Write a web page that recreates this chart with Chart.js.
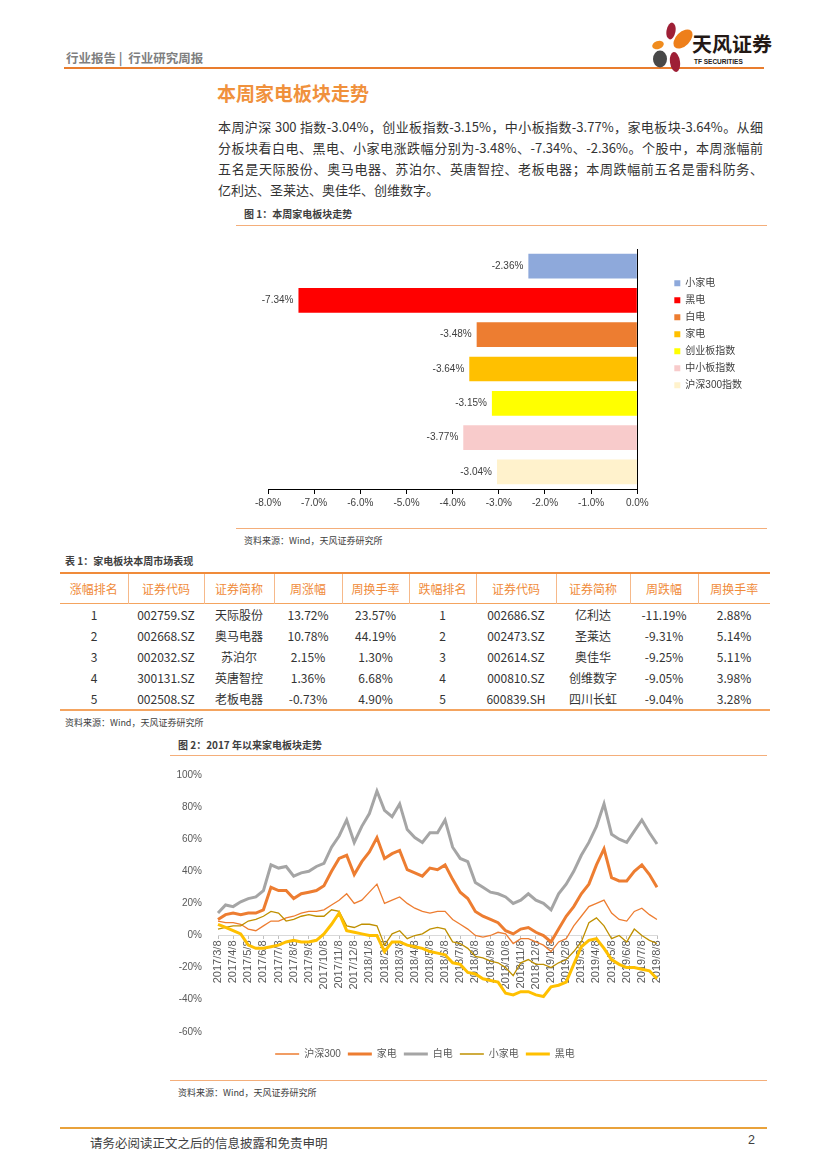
<!DOCTYPE html>
<html>
<head>
<meta charset="utf-8">
<script src="https://cdn.jsdelivr.net/npm/chart.js@4"></script>
<style>
  body { margin: 0; background: #fff; }
  #page { position: relative; width: 827px; height: 1169px; overflow: hidden;
    font-family: "Liberation Sans", "Noto Sans CJK SC", sans-serif; color: #333; }
  .abs { position: absolute; white-space: nowrap; }
  .hline { position: absolute; height: 0; }
  .cjk { font-family: "Noto Sans CJK SC", sans-serif; }
  .para div { width: 545px; text-align: justify; text-align-last: justify; height: 21px; line-height: 21px; }
  .para div.last { text-align-last: left; }
  table { border-collapse: collapse; table-layout: fixed; }
  th { color: #F08B3A; font-weight: normal; font-size: 12px; height: 27px; border-left: 1px solid #F6B98A; }
  th:first-child { border-left: none; }
  td { text-align: center; font-size: 12px; height: 21px; padding: 0; color: #333; }
</style>
</head>
<body>
<div id="page">
  <!-- header -->
  <div class="abs cjk" style="left:66px; top:48px; font-size:12.5px; font-weight:bold; color:#7f7f7f;">行业报告&nbsp;|&nbsp;&nbsp;行业研究周报</div>
  <div class="hline" style="left:64px; top:67px; width:700px; border-top:2px solid #E97D2E;"></div>
  <svg class="abs" style="left:649px; top:22px;" width="44" height="50" viewBox="0 0 44 50">
    <ellipse cx="22" cy="9" rx="4.5" ry="8.5" fill="#9E1F36" transform="rotate(10 22 9)"/>
    <ellipse cx="34" cy="17" rx="7" ry="11.5" fill="#EE7F1A" transform="rotate(45 34 17)"/>
    <ellipse cx="9" cy="23" rx="6" ry="4" fill="#F08C1E" transform="rotate(-20 9 23)"/>
    <ellipse cx="11" cy="37" rx="7" ry="8.5" fill="#484848"/>
    <ellipse cx="26" cy="40" rx="5" ry="10" fill="#9E1F36" transform="rotate(-8 26 40)"/>
  </svg>
  <div class="abs cjk" style="left:692px; top:34px; font-size:20px; line-height:20px; font-weight:bold; color:#231815;">天风证券</div>
  <div class="abs" style="left:694px; top:58px; font-size:6.5px; line-height:7px; font-weight:bold; color:#231815;">TF SECURITIES</div>

  <!-- title + paragraph -->
  <div class="abs cjk" style="left:217px; top:79px; font-size:19px; font-weight:bold; color:#F0913C;">本周家电板块走势</div>
  <div class="abs para cjk" style="left:218px; top:116px; font-size:13px; color:#333;">
    <div>本周沪深 300 指数-3.04%，创业板指数-3.15%，中小板指数-3.77%，家电板块-3.64%。从细</div>
    <div>分板块看白电、黑电、小家电涨跌幅分别为-3.48%、-7.34%、-2.36%。个股中，本周涨幅前</div>
    <div>五名是天际股份、奥马电器、苏泊尔、英唐智控、老板电器；本周跌幅前五名是雷科防务、</div>
    <div class="last">亿利达、圣莱达、奥佳华、创维数字。</div>
  </div>

  <!-- figure 1 -->
  <div class="abs cjk" style="left:244px; top:206px; font-size:10px; font-weight:bold; color:#404040;">图 1：本周家电板块走势</div>
  <div class="hline" style="left:236px; top:225px; width:531px; border-top:1.5px solid #F4AE7A;"></div>
  <div class="abs" style="left:236px; top:232px; width:540px; height:290px;"><canvas id="barChart"></canvas></div>
  <div class="hline" style="left:236px; top:528px; width:531px; border-top:1.5px solid #F4AE7A;"></div>
  <div class="abs cjk" style="left:244px; top:534px; font-size:9px; color:#404040;">资料来源：Wind，天风证券研究所</div>

  <!-- table 1 -->
  <div class="abs cjk" style="left:65px; top:553px; font-size:10px; font-weight:bold; color:#404040;">表 1：家电板块本周市场表现</div>
  <div class="abs cjk" style="left:60px; top:572px;">
    <table id="tbl" style="width:710px; border-top:2px solid #F08B3A; border-bottom:2px solid #F4A460;">
      <colgroup id="cols"></colgroup>
      <thead><tr id="thead" style="border-bottom:1.5px solid #F4A460;"></tr></thead>
      <tbody id="tbody"></tbody>
    </table>
  </div>
  <div class="abs cjk" style="left:65px; top:716px; font-size:9px; color:#404040;">资料来源：Wind，天风证券研究所</div>

  <!-- figure 2 -->
  <div class="abs cjk" style="left:178px; top:737px; font-size:10px; font-weight:bold; color:#404040;">图 2：2017 年以来家电板块走势</div>
  <div class="hline" style="left:170px; top:755px; width:597px; border-top:1.5px solid #F4AE7A;"></div>
  <div class="abs" style="left:170px; top:760px; width:600px; height:315px;"><canvas id="lineChart"></canvas></div>
  <div class="hline" style="left:170px; top:1080px; width:597px; border-top:1.5px solid #F4AE7A;"></div>
  <div class="abs cjk" style="left:178px; top:1086px; font-size:9px; color:#404040;">资料来源：Wind，天风证券研究所</div>

  <!-- footer -->
  <div class="hline" style="left:60px; top:1127px; width:707px; border-top:2px solid #E9A23B;"></div>
  <div class="abs cjk" style="left:90px; top:1133px; font-size:12.5px; color:#404040;">请务必阅读正文之后的信息披露和免责申明</div>
  <div class="abs" style="left:748px; top:1133px; font-size:12.5px; color:#404040;">2</div>
</div>

<script>
// ---- figure 1 data ----
const barCategories = ['小家电', '黑电', '白电', '家电', '创业板指数', '中小板指数', '沪深300指数'];
const barValues = [-2.36, -7.34, -3.48, -3.64, -3.15, -3.77, -3.04];
const barColors = ['#8EA9DB', '#FF0000', '#ED7D31', '#FFC000', '#FFFF00', '#F8CBCB', '#FFF2CC'];

// ---- table 1 data ----
const tableHeader = ['涨幅排名', '证券代码', '证券简称', '周涨幅', '周换手率', '跌幅排名', '证券代码', '证券简称', '周跌幅', '周换手率'];
const gainers = [
    ['1', '002759.SZ', '天际股份', '13.72%', '23.57%'],
    ['2', '002668.SZ', '奥马电器', '10.78%', '44.19%'],
    ['3', '002032.SZ', '苏泊尔', '2.15%', '1.30%'],
    ['4', '300131.SZ', '英唐智控', '1.36%', '6.68%'],
    ['5', '002508.SZ', '老板电器', '-0.73%', '4.90%']
];
const losers = [
    ['1', '002686.SZ', '亿利达', '-11.19%', '2.88%'],
    ['2', '002473.SZ', '圣莱达', '-9.31%', '5.14%'],
    ['3', '002614.SZ', '奥佳华', '-9.25%', '5.11%'],
    ['4', '000810.SZ', '创维数字', '-9.05%', '3.98%'],
    ['5', '600839.SH', '四川长虹', '-9.04%', '3.28%']
];

// ---- figure 2 data (semi-monthly readings, %) ----
const hs300 = [9, 8, 8, 7, 4, 3, 6, 9, 9, 11, 12, 14, 15, 15, 16, 19, 22, 26, 20, 22,
    27, 32, 20, 22, 24, 20, 17, 15, 14, 15, 15, 10, 7, 4, 0, -1, 0, 2, 1, -5,
    -2, -2, -4, -6, -10, -4, -2, 6, 12, 18, 20, 22, 14, 10, 9, 15, 17, 13, 10];
const jiadian = [10, 13, 14, 13, 14, 14, 16, 30, 28, 28, 23, 26, 27, 28, 31, 40, 48, 50, 38, 46,
    52, 61, 48, 51, 53, 41, 39, 37, 42, 41, 44, 35, 27, 23, 15, 12, 10, 8, 3, 1,
    4, 5, 2, 0, -4, 4, 12, 18, 26, 32, 44, 54, 36, 34, 34, 40, 44, 38, 30];
const baidian = [14, 19, 18, 21, 23, 24, 28, 44, 42, 43, 37, 39, 40, 43, 45, 55, 62, 72, 58, 68,
    76, 90, 78, 74, 82, 66, 61, 58, 64, 64, 72, 55, 48, 46, 33, 30, 27, 26, 24, 20,
    22, 26, 22, 20, 16, 26, 32, 40, 50, 58, 68, 82, 63, 60, 58, 65, 72, 64, 57];
const xiaojiadian = [4, 5, 6, 6, 9, 10, 12, 15, 14, 9, 10, 12, 13, 12, 12, 16, 15, 6, 5, 7,
    7, 6, -6, 1, 3, -2, 0, 1, 4, 5, 4, -4, -5, -8, -13, -14, -16, -17, -20, -25,
    -17, -15, -18, -18, -20, -17, -15, -10, -4, 8, 11, 6, -2, 0, -4, 4, 0, -3, -5];
const heidian = [7, 5, 3, 1, -6, -8, -8, -7, -6, -4, -3, -4, -4, -3, 1, 7, 14, 3, 2, 1,
    0, 0, -10, -4, -4, -6, -7, -8, -10, -11, -12, -17, -18, -23, -24, -27, -28, -29, -36, -37,
    -35, -35, -37, -38, -32, -31, -29, -18, -7, -3, -2, -8, -15, -18, -20, -20, -21, -22, -27];

// date labels: the 8th of each month from 2017/3 to 2019/8, plus a mid-month point
const dateLabels = [];
for (let y = 2017, m = 3; y < 2019 || (y === 2019 && m <= 8); m++) {
    if (m > 12) { m = 1; y++; }
    dateLabels.push(`${y}/${m}/8`);
    if (!(y === 2019 && m === 8)) dateLabels.push(`${y}/${m}/23`);
}

// ---- build table ----
const colWidths = [68, 76, 70, 68, 67, 67, 80, 74, 68, 72];
document.getElementById('cols').innerHTML = colWidths.map(w => `<col style="width:${w}px">`).join('');
document.getElementById('thead').innerHTML = tableHeader.map(h => `<th>${h}</th>`).join('');
document.getElementById('tbody').innerHTML = gainers.map((g, i) =>
    '<tr>' + g.concat(losers[i]).map(c => `<td>${c}</td>`).join('') + '</tr>').join('');

Chart.defaults.font.family = '"Liberation Sans", "Noto Sans CJK SC", sans-serif';
Chart.defaults.color = '#404040';
Chart.defaults.animation = false;

// ---- figure 1 ----
const barLabels = {
    id: 'barLabels',
    afterDatasetsDraw(chart) {
        const ctx = chart.ctx;
        ctx.save();
        ctx.font = '10px "Liberation Sans", sans-serif';
        ctx.fillStyle = '#404040';
        ctx.textAlign = 'right';
        ctx.textBaseline = 'middle';
        chart.getDatasetMeta(0).data.forEach((bar, i) => {
            ctx.fillText(barValues[i].toFixed(2) + '%', bar.x - 5, bar.y);
        });
        ctx.restore();
    }
};

new Chart(document.getElementById('barChart'), {
    type: 'bar',
    data: {
        labels: barCategories,
        datasets: [{ data: barValues, backgroundColor: barColors, borderWidth: 0 }]
    },
    options: {
        indexAxis: 'y',
        responsive: true,
        maintainAspectRatio: false,
        layout: { padding: { left: 32, right: 24, top: 17, bottom: 8 } },
        scales: {
            x: {
                min: -8, max: 0,
                ticks: { stepSize: 1, padding: 3, font: { size: 10 }, color: '#404040',
                    callback: v => v.toFixed(1) + '%' },
                grid: { drawOnChartArea: false, drawTicks: true, tickLength: 5, color: '#000' },
                border: { color: '#000', width: 1 },
                afterFit: s => { s.height = 25; }
            },
            y: {
                position: 'right',
                ticks: { display: false },
                grid: { display: false },
                border: { color: '#000', width: 1 },
                afterFit: s => { s.width = 30; }
            }
        },
        plugins: {
            tooltip: { enabled: false },
            legend: {
                position: 'right',
                align: 'start',
                title: { display: true, text: ' ', font: { size: 1 }, padding: { top: 21, bottom: 0 } },
                labels: {
                    boxWidth: 6, boxHeight: 6, padding: 7,
                    font: { size: 10 }, color: '#404040',
                    generateLabels: () => barCategories.map((c, i) => ({
                        text: c, fillStyle: barColors[i], strokeStyle: barColors[i],
                        lineWidth: 0, hidden: false, index: i
                    }))
                }
            }
        }
    },
    plugins: [barLabels]
});

// ---- figure 2 ----
new Chart(document.getElementById('lineChart'), {
    type: 'line',
    data: {
        labels: dateLabels,
        datasets: [
            { label: '沪深300', data: hs300, borderColor: '#ED7D31', borderWidth: 1.3, order: 5 },
            { label: '家电', data: jiadian, borderColor: '#ED7D31', borderWidth: 3, order: 4 },
            { label: '白电', data: baidian, borderColor: '#A5A5A5', borderWidth: 3, order: 3 },
            { label: '小家电', data: xiaojiadian, borderColor: '#BF9000', borderWidth: 1.3, order: 2 },
            { label: '黑电', data: heidian, borderColor: '#FFC000', borderWidth: 3, order: 1 }
        ]
    },
    options: {
        responsive: true,
        maintainAspectRatio: false,
        layout: { padding: { left: 0, right: 90, top: 15, bottom: 6 } },
        elements: { point: { radius: 0 }, line: { tension: 0 } },
        scales: {
            x: {
                position: { y: 0 },
                ticks: {
                    autoSkip: false, maxRotation: 90, minRotation: 90, padding: 2,
                    font: { size: 11 }, color: '#595959',
                    callback: (v, i) => (i % 2 === 0 ? dateLabels[i] : '')
                },
                grid: {
                    drawOnChartArea: false, drawTicks: true, tickLength: 3,
                    color: c => (c.index % 2 === 0 ? '#BFBFBF' : 'rgba(0,0,0,0)')
                },
                border: { color: '#D9D9D9', width: 1 }
            },
            y: {
                min: -60, max: 100,
                ticks: { stepSize: 20, padding: 8, font: { size: 10 }, color: '#595959',
                    callback: v => v + '%' },
                grid: { display: false },
                border: { display: false },
                afterFit: s => { s.width = 48; }
            },
            // empty spacer on the right so the legend sits where it does in the original
            spacer: {
                axis: 'y',
                position: 'right',
                ticks: { display: false },
                grid: { display: false },
                border: { display: false },
                afterFit: s => { s.width = 23; }
            }
        },
        plugins: {
            tooltip: { enabled: false },
            legend: {
                position: 'bottom',
                title: { display: true, text: ' ', font: { size: 1 }, padding: { top: 9, bottom: 0 } },
                labels: {
                    usePointStyle: true, pointStyle: 'line', pointStyleWidth: 24,
                    padding: 7, font: { size: 10 }, color: '#595959',
                    sort: (a, b) => a.datasetIndex - b.datasetIndex
                }
            }
        }
    }
});
</script>
</body>
</html>
